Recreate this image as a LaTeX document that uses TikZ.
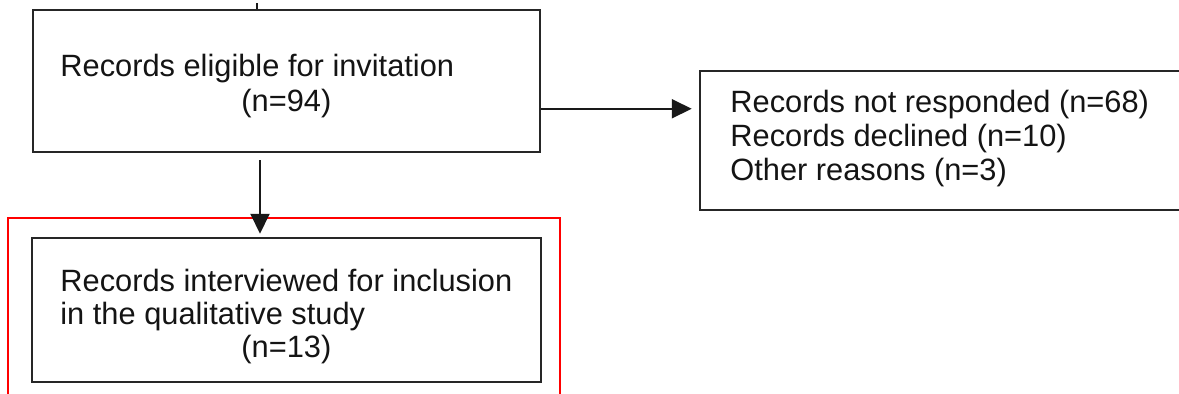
\documentclass[tikz,border=0pt]{standalone}
\usepackage{fontspec}
\setmainfont{Liberation Sans}
\usetikzlibrary{arrows.meta}
\begin{document}
\begin{tikzpicture}[x=0.5pt,y=-0.5pt,
  box/.style={draw=black!85, line width=1.25pt, inner sep=0pt},
  txt/.style={anchor=base west, inner sep=0pt, font=\fontsize{15.4pt}{17pt}\selectfont, text=black!92},
  arr/.style={draw=black!90, line width=1pt, -{Triangle[length=10pt,width=9.5pt]}}]
\useasboundingbox (0,0) rectangle (1179,393);
\clip (0,0) rectangle (1179,393);
\fill[white] (0,0) rectangle (1179,393);
% boxes
\node[box, minimum width=253.5pt, minimum height=71pt] (b1) at (286.5,81) {};
\node[box, minimum width=245pt, minimum height=69.5pt] (b2) at (945,140.5) {};
\node[box, minimum width=254.5pt, minimum height=72pt] (b3) at (286.5,310) {};
\node[draw=red, line width=0.8pt, inner sep=0pt, minimum width=276pt, minimum height=91pt] (hl) at (284,309) {};
% texts
\node[txt] (t1a) at (60,76) {Records eligible for invitation};
\node[txt] (t1b) at (241,111) {(n=94)};
\node[txt] (t2a) at (730,112) {Records not responded (n=68)};
\node[txt] (t2b) at (730,146) {Records declined (n=10)};
\node[txt] (t2c) at (730,180) {Other reasons (n=3)};
\node[txt] (t3a) at (60,291) {Records interviewed for inclusion};
\node[txt] (t3b) at (60,324) {in the qualitative study};
\node[txt] (t3c) at (241,357) {(n=13)};
% connectors
\coordinate (topin) at (257,0);
\draw[draw=black!90, line width=1pt] ([yshift=-1.5pt]topin) -- (b1.north -| topin);
\draw[arr, shorten >=3.5pt] ([yshift=-50pt]b1.north east) -- ([yshift=-50pt]b1.north east -| b2.west);
\coordinate (dx) at (260,0);
\draw[arr, shorten <=3.5pt, shorten >=1.5pt] (b1.south -| dx) -- (b3.north -| dx);
\end{tikzpicture}
\end{document}
